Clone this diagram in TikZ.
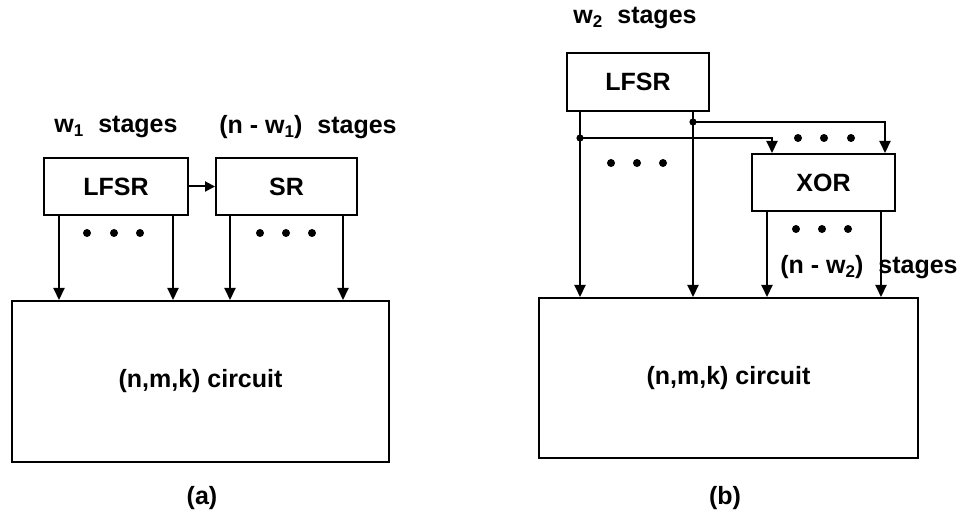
\documentclass[tikz,border=0pt]{standalone}
\usepackage{fontspec}
\setmainfont{Liberation Sans}
\usetikzlibrary{arrows.meta}
\newcommand\lowidx[1]{\raisebox{-0.3ex}{\fontsize{17}{17}\selectfont #1}}
\begin{document}
\begin{tikzpicture}[x=1pt,y=-1pt,
  box/.style={draw,line width=2pt,inner sep=0pt,font=\fontsize{25}{30}\selectfont\bfseries},
  lbl/.style={inner sep=0pt,font=\fontsize{25}{30}\selectfont\bfseries},
  arr/.style={line width=2pt,-{Triangle[length=12pt,width=11pt]}},
  dotf/.style={fill=black}]
\useasboundingbox (0,0) rectangle (961,518);
% ---- panel (a)
\node[box,minimum width=144,minimum height=57] (lfsrA) at (116,186.5) {LFSR};
\node[box,minimum width=141,minimum height=57] (sr) at (286.5,186.5) {SR};
\node[box,minimum width=377,minimum height=161] (bigA) at (200.5,381.5) {(n,m,k) circuit};
\node[lbl] (w1) at (116,127) {w\lowidx{1}\hspace{0.6em}stages};
\node[lbl] (nw1) at (308,127) {(n - w\lowidx{1})\hspace{0.6em}stages};
\node[lbl] (capa) at (202,498) {(a)};
\draw[line width=2pt,-{Triangle[length=10pt,width=10pt]}] (lfsrA.east) -- (sr.west);
\coordinate (xa1) at (59,0);
\coordinate (xa2) at (173,0);
\coordinate (xa3) at (230,0);
\coordinate (xa4) at (343,0);
\draw[arr] (xa1 |- lfsrA.south) -- (xa1 |- bigA.north);
\draw[arr] (xa2 |- lfsrA.south) -- (xa2 |- bigA.north);
\draw[arr] (xa3 |- sr.south) -- (xa3 |- bigA.north);
\draw[arr] (xa4 |- sr.south) -- (xa4 |- bigA.north);
\foreach \x in {87,114,140} \fill[dotf] (\x,233) circle (4pt);
\foreach \x in {260,286,312} \fill[dotf] (\x,233) circle (4pt);
% ---- panel (b)
\node[box,minimum width=142,minimum height=58] (lfsrB) at (638,82) {LFSR};
\node[box,minimum width=143,minimum height=57] (xor) at (823.5,182.5) {XOR};
\node[box,minimum width=379,minimum height=160] (bigB) at (728.5,378) {(n,m,k) circuit};
\node[lbl] (w2) at (635,18) {w\lowidx{2}\hspace{0.6em}stages};
\node[lbl] (nw2) at (869,267) {(n - w\lowidx{2})\hspace{0.6em}stages};
\node[lbl] (capb) at (725,498) {(b)};
\coordinate (xb1) at (580,0);
\coordinate (xb2) at (693,0);
\coordinate (xb3) at (767,0);
\coordinate (xb4) at (881,0);
\coordinate (jl) at (580,138);
\coordinate (jr) at (693,122);
\coordinate (xi1) at (772,0);
\coordinate (xi2) at (885,0);
\draw[arr] (xb1 |- lfsrB.south) -- (xb1 |- bigB.north);
\draw[arr] (xb2 |- lfsrB.south) -- (xb2 |- bigB.north);
\draw[arr] (xb3 |- xor.south) -- (xb3 |- bigB.north);
\draw[arr] (xb4 |- xor.south) -- (xb4 |- bigB.north);
\draw[arr] (jl) -| (xi1 |- xor.north);
\draw[arr] (jr) -| (xi2 |- xor.north);
\fill (jl) circle (3.6pt);
\fill (jr) circle (3.6pt);
\foreach \x in {611,637,663} \fill[dotf] (\x,163) circle (4pt);
\foreach \x in {798,824,851} \fill[dotf] (\x,138) circle (4pt);
\foreach \x in {796,822,848} \fill[dotf] (\x,229) circle (4pt);
\end{tikzpicture}
\end{document}
